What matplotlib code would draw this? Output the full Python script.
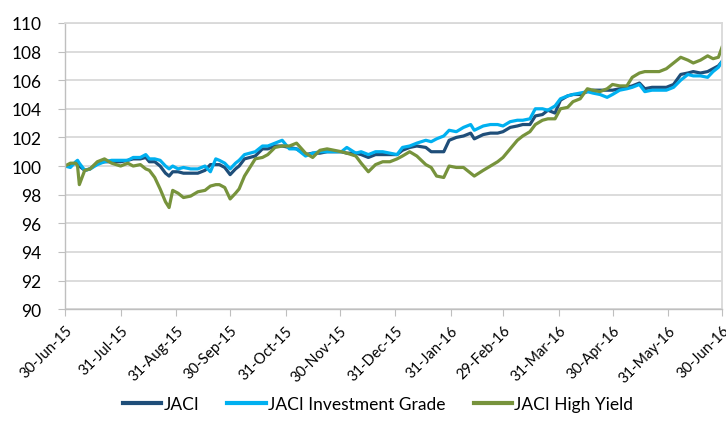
import matplotlib
matplotlib.use("Agg")
import matplotlib.pyplot as plt
import pandas as pd

dates = ["2015-06-30","2015-07-03","2015-07-06","2015-07-07","2015-07-08","2015-07-11","2015-07-14","2015-07-18",
         "2015-07-22","2015-07-26","2015-07-31","2015-08-04","2015-08-07","2015-08-11","2015-08-14","2015-08-16",
         "2015-08-19","2015-08-22","2015-08-25","2015-08-27","2015-08-29","2015-09-01","2015-09-04","2015-09-08",
         "2015-09-12","2015-09-16","2015-09-19","2015-09-22","2015-09-24","2015-09-27","2015-09-30","2015-10-03",
         "2015-10-05","2015-10-08","2015-10-11","2015-10-14","2015-10-18","2015-10-21","2015-10-25","2015-10-29",
         "2015-11-02","2015-11-06","2015-11-11","2015-11-15","2015-11-19","2015-11-23","2015-11-27","2015-12-01",
         "2015-12-04","2015-12-09","2015-12-12","2015-12-16","2015-12-20","2015-12-24","2015-12-28","2016-01-01",
         "2016-01-04","2016-01-08","2016-01-12","2016-01-17","2016-01-20","2016-01-23","2016-01-27","2016-01-30",
         "2016-02-03","2016-02-07","2016-02-11","2016-02-13","2016-02-18","2016-02-22","2016-02-26","2016-02-29",
         "2016-03-04","2016-03-08","2016-03-11","2016-03-15","2016-03-18","2016-03-22","2016-03-25","2016-03-29",
         "2016-04-01","2016-04-05","2016-04-08","2016-04-12","2016-04-16","2016-04-19","2016-04-23","2016-04-27",
         "2016-04-30","2016-05-04","2016-05-08","2016-05-11","2016-05-15","2016-05-18","2016-05-22","2016-05-26",
         "2016-05-30","2016-06-03","2016-06-07","2016-06-11","2016-06-14","2016-06-18","2016-06-22","2016-06-25",
         "2016-06-28","2016-06-30"]

jaci = [100.0,100.1,100.2,100.2,100.0,99.7,99.8,100.2,100.3,100.3,100.3,100.4,100.5,100.5,100.6,100.3,
        100.3,100.0,99.5,99.3,99.6,99.6,99.5,99.5,99.5,99.7,100.1,100.1,100.1,99.9,99.4,99.8,
        100.0,100.5,100.6,100.7,101.2,101.2,101.4,101.4,101.3,101.2,100.8,100.9,100.9,101.0,101.0,101.0,
        100.9,100.9,100.8,100.6,100.8,100.8,100.8,100.8,101.1,101.3,101.4,101.3,101.0,101.0,101.0,101.8,
        102.0,102.1,102.3,101.9,102.2,102.3,102.3,102.4,102.7,102.8,102.9,102.9,103.5,103.6,103.9,103.7,
        104.6,104.9,105.0,105.0,105.2,105.3,105.3,105.3,105.3,105.4,105.5,105.6,105.8,105.4,105.5,105.5,
        105.5,105.7,106.4,106.5,106.6,106.5,106.6,106.8,107.0,107.3]

jaci_ig = [100.0,99.9,100.3,100.4,100.2,99.7,99.8,100.1,100.3,100.4,100.4,100.4,100.6,100.6,100.8,100.5,
           100.5,100.4,100.0,99.8,100.0,99.8,99.9,99.8,99.8,100.0,99.6,100.5,100.4,100.2,99.8,100.2,
           100.4,100.8,100.9,101.0,101.4,101.4,101.6,101.8,101.2,101.2,100.7,100.9,101.0,101.0,101.0,101.0,
           101.3,100.9,101.0,100.8,101.0,101.0,100.9,100.8,101.3,101.4,101.6,101.8,101.7,101.9,102.1,102.5,
           102.4,102.7,102.9,102.5,102.8,102.9,102.9,102.8,103.1,103.2,103.2,103.3,104.0,104.0,103.9,104.2,
           104.7,104.9,105.0,105.1,105.2,105.1,105.0,104.8,105.0,105.3,105.4,105.5,105.7,105.2,105.3,105.3,
           105.3,105.5,106.0,106.4,106.3,106.3,106.2,106.6,106.9,107.3]

jaci_hy = [100.0,100.2,100.2,100.0,98.7,99.7,99.8,100.3,100.5,100.2,100.0,100.2,100.0,100.1,99.8,99.7,
           99.2,98.4,97.5,97.1,98.3,98.1,97.8,97.9,98.2,98.3,98.6,98.7,98.7,98.5,97.7,98.1,
           98.4,99.3,99.9,100.5,100.6,100.8,101.3,101.4,101.4,101.6,100.9,100.6,101.1,101.2,101.1,101.0,
           100.9,100.7,100.2,99.6,100.1,100.3,100.3,100.5,100.7,101.0,100.7,100.1,99.9,99.3,99.2,100.0,
           99.9,99.9,99.5,99.3,99.7,100.0,100.3,100.6,101.2,101.8,102.1,102.4,102.9,103.2,103.3,103.3,
           104.0,104.1,104.5,104.7,105.4,105.3,105.2,105.4,105.7,105.6,105.6,106.2,106.5,106.6,106.6,106.6,
           106.8,107.2,107.6,107.4,107.2,107.4,107.7,107.5,107.6,108.3]

tick_dates = ["2015-06-30","2015-07-31","2015-08-31","2015-09-30","2015-10-31","2015-11-30","2015-12-31",
              "2016-01-31","2016-02-29","2016-03-31","2016-04-30","2016-05-31","2016-06-30"]
series_names = ["JACI", "JACI Investment Grade", "JACI High Yield"]
y_ticks = [90, 92, 94, 96, 98, 100, 102, 104, 106, 108, 110]

plt.rcParams['font.family'] = ['Lato', 'DejaVu Sans']

x = pd.to_datetime(dates)
fig = plt.figure(figsize=(7.26, 4.35), dpi=100)
ax = fig.add_axes([0.0895, 0.287, 0.905, 0.658])

colors = ["#1F4E79", "#00B0F0", "#77933C"]
for vals, name, c in zip([jaci, jaci_ig, jaci_hy], series_names, colors):
    ax.plot(x, vals, color=c, lw=2.3, label=name, solid_joinstyle='round')

ax.set_ylim(90, 110)
ax.set_yticks(y_ticks)
ax.set_xlim(pd.Timestamp(tick_dates[0]), pd.Timestamp(tick_dates[-1]))
tk = pd.to_datetime(tick_dates)
ax.set_xticks(tk)
ax.set_xticklabels([d.strftime("%d-%b-%y") for d in tk], rotation=45, ha='right',
                   rotation_mode='anchor', fontsize=10.5)
ax.tick_params(axis='y', labelsize=12.5, length=5, color='#BFBFBF', pad=12)
ax.tick_params(axis='x', length=5, color='#BFBFBF', pad=5)
ax.grid(axis='y', color='#D9D9D9', lw=1.3)
ax.set_axisbelow(True)
for s in ['top', 'right']:
    ax.spines[s].set_color('#D9D9D9')
    ax.spines[s].set_linewidth(1.3)
for s in ['left', 'bottom']:
    ax.spines[s].set_color('#BFBFBF')
    ax.spines[s].set_linewidth(1.0)

leg = fig.legend(loc='center', bbox_to_anchor=(0.521, 0.068), ncol=3, frameon=False,
                 fontsize=12.5, handlelength=2.2, columnspacing=1.6, handletextpad=0.15)
for l in leg.get_lines():
    l.set_linewidth(3)

fig.savefig("out.png", dpi=100)
